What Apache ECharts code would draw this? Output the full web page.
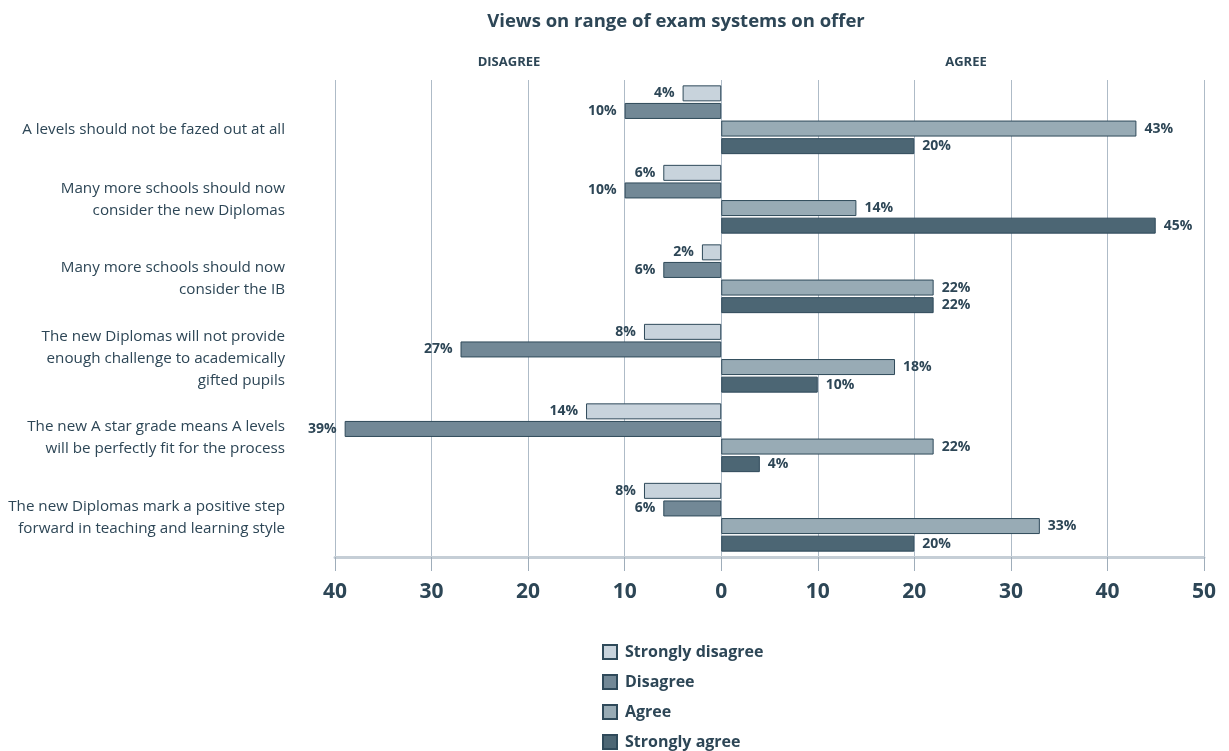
<!DOCTYPE html>
<html>
<head>
<meta charset="utf-8">
<script src="https://cdn.jsdelivr.net/npm/echarts@6/dist/echarts.min.js"></script>
<style>
  html, body { margin: 0; padding: 0; background: #fff; }
  #chart { width: 1229px; height: 751px; }
</style>
</head>
<body>
<div id="chart"></div>
<script>
// statements, top to bottom
const categories = [
  'A levels should not be fazed out at all',
  'Many more schools should now\nconsider the new Diplomas',
  'Many more schools should now\nconsider the IB',
  'The new Diplomas will not provide\nenough challenge to academically\ngifted pupils',
  'The new A star grade means A levels\nwill be perfectly fit for the process',
  'The new Diplomas mark a positive step\nforward in teaching and learning style'
];
const stronglyDisagree = [4, 6, 2, 8, 14, 8];
const disagree = [10, 10, 6, 27, 39, 6];
const agree = [43, 14, 22, 18, 22, 33];
const stronglyAgree = [20, 45, 22, 10, 4, 20];

const ink = '#2d4656';
const font = '"Open Sans", "Noto Sans", sans-serif';

function mkSeries(name, values, color, negative) {
  return {
    name: name,
    type: 'bar',
    data: values.map(v => negative ? -v : v),
    barWidth: 16,
    barGap: '10%',
    itemStyle: { color: color, borderColor: '#2f4a5a', borderWidth: 1 },
    label: {
      show: true,
      position: negative ? 'left' : 'right',
      distance: 8,
      formatter: p => Math.abs(p.value) + '%',
      color: ink,
      fontWeight: 'bold',
      fontSize: 14,
      fontFamily: font
    }
  };
}

const chart = echarts.init(document.getElementById('chart'));
chart.setOption({
  animation: false,
  textStyle: { fontFamily: font },
  title: [
    { text: 'Views on range of exam systems on offer', left: 671, top: 7, textAlign: 'center',
      textStyle: { color: ink, fontSize: 18.5, fontWeight: 'bold', fontFamily: font } },
    { text: 'DISAGREE', left: 504, top: 51, textAlign: 'center',
      textStyle: { color: ink, fontSize: 13, fontWeight: 'bold', fontFamily: font } },
    { text: 'AGREE', left: 961, top: 51, textAlign: 'center',
      textStyle: { color: ink, fontSize: 13, fontWeight: 'bold', fontFamily: font } }
  ],
  legend: {
    orient: 'vertical',
    left: 597,
    top: 639,
    height: 120,
    icon: 'rect',
    itemWidth: 14,
    itemHeight: 14,
    itemGap: 14,
    textStyle: { color: ink, fontSize: 16, fontWeight: 'bold', fontFamily: font, padding: [0, 0, 0, 3] }
  },
  grid: { left: 335, right: 25, top: 80, bottom: 194, outerBoundsMode: 'none' },
  xAxis: {
    type: 'value',
    min: -40,
    max: 50,
    interval: 10,
    axisLine: { show: true, onZero: false, lineStyle: { color: '#c5ced6', width: 3 } },
    axisTick: { show: true, length: 14, lineStyle: { color: '#9fadba' } },
    splitLine: { show: true, lineStyle: { color: '#aebbc7', width: 1 } },
    axisLabel: {
      formatter: v => Math.abs(v),
      color: ink, fontSize: 21, fontWeight: 'bold', margin: 25, fontFamily: font
    }
  },
  yAxis: {
    type: 'category',
    data: categories,
    inverse: true,
    axisLine: { show: false, onZero: false },
    axisTick: { show: false },
    axisLabel: {
      color: ink, fontSize: 15.2, lineHeight: 22, margin: 50, align: 'right', fontFamily: font,
      // the single-line label sits a little lower in the original
      formatter: (v, i) => i === 0 ? '{low|' + v + '}' : v,
      rich: {
        low: { color: ink, fontSize: 15.2, lineHeight: 22, fontFamily: font, padding: [20, 0, 0, 0] }
      }
    }
  },
  series: [
    mkSeries('Strongly disagree', stronglyDisagree, '#c8d3dc', true),
    mkSeries('Disagree', disagree, '#728896', true),
    mkSeries('Agree', agree, '#98abb5', false),
    mkSeries('Strongly agree', stronglyAgree, '#4c6674', false)
  ]
});
</script>
</body>
</html>
